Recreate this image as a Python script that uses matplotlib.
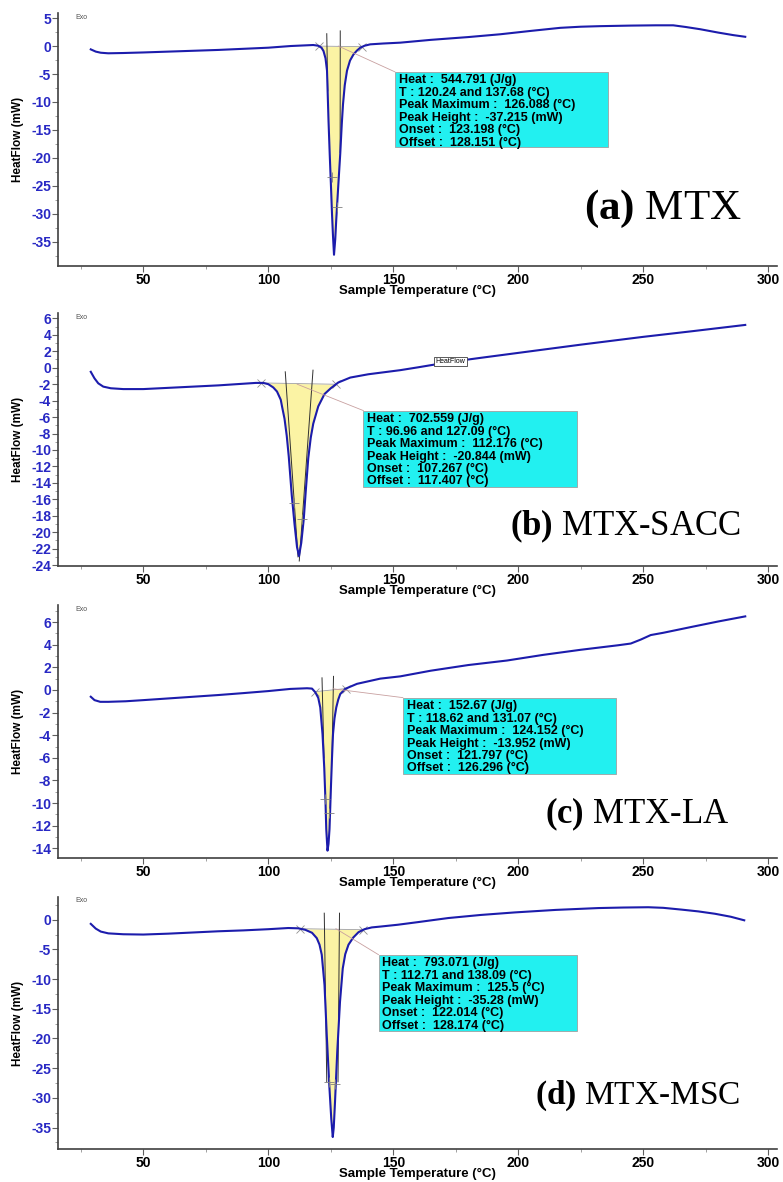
#! /usr/bin/env python

'''
DSC thermograms of MTX and its three cocrystals, four stacked panels.
'''

import numpy as np
import matplotlib
matplotlib.use('Agg')
import matplotlib.pyplot as plt
from matplotlib.patches import Rectangle
from matplotlib.ticker import MultipleLocator

plt.rcParams['font.family'] = ['Liberation Sans', 'DejaVu Sans']
plt.rcParams['axes.unicode_minus'] = False
plt.rcParams['mathtext.fontset'] = 'custom'
plt.rcParams['mathtext.rm'] = 'Liberation Serif'
plt.rcParams['mathtext.bf'] = 'Liberation Serif:bold'

# (a) MTX
temp_a = [29, 31, 33, 36, 42, 50, 60, 70, 80, 90, 100, 109, 115, 118, 120,
          121.3, 122.1, 122.9, 123.5, 124.1, 124.6, 125.1, 125.5, 125.9, 126.3,
          126.8, 127.2, 128.0, 128.8, 129.4, 129.9, 130.6, 131.5, 132.7, 134.1,
          135.5, 136.8, 138.5, 140.8, 146, 152.8, 165, 180, 192.8, 205, 216.8,
          225, 232.8, 245, 255, 262, 267, 272.8, 280, 286, 290.8]
flow_a = [-0.6, -1.0, -1.2, -1.3, -1.25, -1.15, -1.0, -0.85, -0.7, -0.5, -0.3,
          0.0, 0.12, 0.18, 0.05, -0.3, -0.9, -2.2, -4.4, -13.3, -19.5, -25.2,
          -30.0, -34.0, -37.3, -34.5, -31.0, -25.0, -19.2, -14.0, -10.4, -7.0,
          -4.4, -2.6, -1.5, -0.8, -0.3, 0.05, 0.3, 0.45, 0.6, 1.1, 1.6, 2.1,
          2.7, 3.25, 3.45, 3.55, 3.65, 3.7, 3.7, 3.4, 3.0, 2.4, 1.95, 1.65]

# (b) MTX-SACC
temp_b = [29, 30.5, 32, 34, 37, 42, 50, 60, 70, 80, 90, 95, 98, 100, 102,
          103.5, 105, 105.5, 106.5, 107.4, 108.2, 109.4, 110.5, 111.5, 112.3,
          113.2, 114.2, 115, 116, 117, 118, 120, 122.5, 125, 128, 132.8, 140,
          152.8, 160, 172.8, 185, 200, 225, 250, 270, 290.8]
flow_b = [-0.5, -1.3, -1.9, -2.3, -2.5, -2.6, -2.6, -2.45, -2.3, -2.15, -1.95,
          -1.85, -1.85, -2.0, -2.4, -2.9, -3.9, -4.7, -6.2, -8.3, -10.8, -15.5,
          -19.0, -21.8, -22.9, -21.3, -18.4, -15.0, -11.0, -8.5, -6.8, -4.7,
          -3.2, -2.5, -1.8, -1.2, -0.8, -0.3, 0.05, 0.7, 1.2, 1.8, 2.8, 3.75,
          4.45, 5.2]

# (c) MTX-LA
temp_c = [29, 30.5, 32.8, 36, 43, 50, 60, 70, 80, 90, 100, 108.8, 115.5, 117.5,
          118.8, 120, 120.8, 121.7, 122.4, 122.9, 123.2, 123.7, 124.1, 124.5,
          125.1, 125.5, 125.9, 126.5, 127.2, 128, 128.8, 130.8, 135.5, 144.8,
          152.8, 165, 180, 195.5, 210, 225, 240, 245, 249, 253, 258, 270, 280,
          290.8]
flow_c = [-0.6, -0.9, -1.05, -1.05, -1.0, -0.9, -0.75, -0.6, -0.45, -0.28, -0.1,
          0.09, 0.15, 0.12, -0.2, -0.7, -1.55, -3.9, -6.9, -9.9, -12.3, -14.2,
          -13.6, -12.3, -8.4, -6.0, -3.9, -2.5, -1.55, -0.85, -0.36, 0.1, 0.54,
          1.0, 1.2, 1.7, 2.2, 2.6, 3.1, 3.55, 3.95, 4.1, 4.45, 4.85, 5.05, 5.6,
          6.05, 6.5]

# (d) MTX-MSC
temp_d = [29, 31, 33, 36, 42, 50, 60, 70, 80, 90, 100, 108, 112, 114.8, 117.5,
          119.4, 120.5, 121.4, 122.5, 123.4, 124.4, 125.2, 125.8, 126.2, 126.7,
          127.6, 128.7, 129.8, 130.8, 132.1, 134, 136.1, 138.5, 141.4, 145,
          151.8, 160, 172, 185, 198.7, 215, 232, 242, 252, 258, 265.3, 272,
          278.7, 285, 290.4]
flow_d = [-0.7, -1.5, -2.0, -2.3, -2.45, -2.5, -2.35, -2.15, -1.95, -1.8, -1.6,
          -1.4, -1.45, -1.7, -2.2, -3.1, -4.2, -5.9, -11.0, -19.4, -27.8, -33.5,
          -36.6, -35.0, -30.7, -22.2, -13.8, -8.2, -5.8, -4.2, -3.0, -2.1, -1.6,
          -1.3, -1.15, -0.85, -0.4, 0.28, 0.8, 1.23, 1.65, 1.96, 2.05, 2.1, 2.0,
          1.7, 1.4, 1.0, 0.5, -0.1]

# integration limits (T) reported by the software
limits_a = [120.24, 137.68]
limits_b = [96.96, 127.09]
limits_c = [118.62, 131.07]
limits_d = [112.71, 138.09]

# tangent lines drawn on the peaks: (T, HF) end points
tangents_a = [[(123.4, 2.2), (123.8, -8.0)], [(128.8, 2.7), (128.75, -19.0)]]
tangents_b = [[(106.8, -0.5), (111.9, -23.0)], [(117.9, -0.3), (112.4, -23.5)]]
tangents_c = [[(121.5, 1.07), (122.3, -6.0)], [(126.1, 1.2), (125.5, -6.0)]]
tangents_d = [[(122.4, 1.1), (123.4, -27.3)], [(128.5, 1.1), (127.9, -27.3)]]

# small marks on the peak flanks
marks_a = [(125.5, -23.4), (127.5, -28.7)]
marks_b = [(110.1, -16.5), (113.5, -18.4)]
marks_c = [(122.8, -9.6), (124.4, -10.9)]
marks_d = [(124.1, -27.3), (126.7, -27.6)]

# point the leader line starts from
leader_a = (128.0, 0.0)
leader_b = (111.5, -2.0)
leader_c = (126.0, 0.1)
leader_d = (127.0, -1.5)

info_a = ['Heat :  544.791 (J/g)', 'T : 120.24 and 137.68 (°C)',
          'Peak Maximum :  126.088 (°C)', 'Peak Height :  -37.215 (mW)',
          'Onset :  123.198 (°C)', 'Offset :  128.151 (°C)']
info_b = ['Heat :  702.559 (J/g)', 'T : 96.96 and 127.09 (°C)',
          'Peak Maximum :  112.176 (°C)', 'Peak Height :  -20.844 (mW)',
          'Onset :  107.267 (°C)', 'Offset :  117.407 (°C)']
info_c = ['Heat :  152.67 (J/g)', 'T : 118.62 and 131.07 (°C)',
          'Peak Maximum :  124.152 (°C)', 'Peak Height :  -13.952 (mW)',
          'Onset :  121.797 (°C)', 'Offset :  126.296 (°C)']
info_d = ['Heat :  793.071 (J/g)', 'T : 112.71 and 138.09 (°C)',
          'Peak Maximum :  125.5 (°C)', 'Peak Height :  -35.28 (mW)',
          'Onset :  122.014 (°C)', 'Offset :  128.174 (°C)']

labels = [r'$\mathbf{(a)}$ MTX', r'$\mathbf{(b)}$ MTX-SACC',
          r'$\mathbf{(c)}$ MTX-LA', r'$\mathbf{(d)}$ MTX-MSC']

CURVE = '#1c1cac'
TICK_BLUE = '#2828c4'
FILL = '#fbf3a4'
BOX = '#22f0f0'
LEADER = '#c8a0a0'

# layout in figure / axes fractions
panels = [
    dict(temp=temp_a, flow=flow_a, limits=limits_a, tangents=tangents_a,
         marks=marks_a, leader=leader_a, info=info_a, label=labels[0],
         bottom=0.7750, ylim=(-39.3, 5.9), ystep=5,
         box=(0.469, 0.470, 0.765, 0.767), label_xy=(0.842, 0.186), label_size=31),
    dict(temp=temp_b, flow=flow_b, limits=limits_b, tangents=tangents_b,
         marks=marks_b, leader=leader_b, info=info_b, label=labels[1],
         bottom=0.5212, ylim=(-24.1, 6.65), ystep=2,
         box=(0.425, 0.313, 0.722, 0.614), label_xy=(0.790, 0.1225), label_size=25),
    dict(temp=temp_c, flow=flow_c, limits=limits_c, tangents=tangents_c,
         marks=marks_c, leader=leader_c, info=info_c, label=labels[2],
         bottom=0.2741, ylim=(-14.85, 7.5), ystep=2,
         box=(0.480, 0.332, 0.776, 0.634), label_xy=(0.806, 0.138), label_size=25),
    dict(temp=temp_d, flow=flow_d, limits=limits_d, tangents=tangents_d,
         marks=marks_d, leader=leader_d, info=info_d, label=labels[3],
         bottom=0.0275, ylim=(-38.7, 3.9), ystep=5,
         box=(0.446, 0.470, 0.722, 0.770), label_xy=(0.806, 0.182), label_size=24),
]


def plot_panel(ax, p):
    '''
    Draw one thermogram with its integrated peak and result box.
    '''
    temp = np.asarray(p['temp'], dtype=float)
    flow = np.asarray(p['flow'], dtype=float)

    # integrated area between curve and straight baseline
    t1, t2 = p['limits']
    b1, b2 = np.interp([t1, t2], temp, flow)
    inside = (temp > t1) & (temp < t2)
    tf = np.concatenate([[t1], temp[inside], [t2]])
    ff = np.concatenate([[b1], flow[inside], [b2]])
    base = b1 + (b2 - b1) * (tf - t1) / (t2 - t1)
    ax.fill_between(tf, ff, base, color=FILL, lw=0, zorder=1)
    ax.plot([t1, t2], [b1, b2], color='#a0a0a0', lw=0.6, zorder=2)
    ax.plot([t1, t2], [b1, b2], ls='none', marker='x', ms=6, mew=0.6,
            color='#909090', zorder=2)

    for (x0, y0), (x1, y1) in p['tangents']:
        ax.plot([x0, x1], [y0, y1], color='#303030', lw=0.7, zorder=2)
    mx = [m[0] for m in p['marks']]
    my = [m[1] for m in p['marks']]
    ax.plot(mx, my, ls='none', marker='+', ms=7, mew=0.6, color='#808080', zorder=4)

    ax.plot(temp, flow, color=CURVE, lw=1.5, zorder=3)

    # result box with leader line
    bx0, by0, bx1, by1 = p['box']
    ax.annotate('', xy=p['leader'], xycoords='data', xytext=(bx0, by1),
                textcoords='axes fraction',
                arrowprops=dict(arrowstyle='-', color=LEADER, lw=0.6,
                                shrinkA=0, shrinkB=0))
    ax.add_patch(Rectangle((bx0, by0), bx1 - bx0, by1 - by0, transform=ax.transAxes,
                           facecolor=BOX, edgecolor='#a0a0a0', lw=0.6, zorder=5))
    ax.text(bx0 + 0.005, by1 - 0.010, '\n'.join(p['info']), transform=ax.transAxes,
            ha='left', va='top', fontsize=9, fontweight='bold', linespacing=1.05,
            zorder=6)

    ax.text(p['label_xy'][0], p['label_xy'][1], p['label'], transform=ax.transAxes,
            ha='center', va='baseline', fontsize=p['label_size'],
            family='Liberation Serif')
    ax.text(0.024, 0.984, 'Exo', transform=ax.transAxes, ha='left', va='center',
            fontsize=5, color='#505050')

    # axes styling
    ax.set_xlim(15.9, 303.4)
    ax.set_ylim(*p['ylim'])
    ax.xaxis.set_major_locator(MultipleLocator(50))
    ax.xaxis.set_minor_locator(MultipleLocator(25))
    ax.yaxis.set_major_locator(MultipleLocator(p['ystep']))
    ax.yaxis.set_minor_locator(MultipleLocator(p['ystep'] / 2.0))
    for side in ['top', 'right']:
        ax.spines[side].set_visible(False)
    for side in ['left', 'bottom']:
        ax.spines[side].set_color('#404040')
        ax.spines[side].set_linewidth(1.2)
    ax.tick_params(axis='both', which='major', length=4, width=0.8, color='#606060')
    ax.tick_params(axis='both', which='minor', length=2, width=0.6, color='#909090')
    ax.tick_params(axis='x', which='major', pad=1, labelsize=10)
    ax.tick_params(axis='y', which='major', pad=1, labelsize=10, labelcolor=TICK_BLUE)
    for lab in ax.get_xticklabels() + ax.get_yticklabels():
        lab.set_fontweight('bold')
    ax.set_xlabel('Sample Temperature (°C)', fontsize=9.5, fontweight='bold')
    ax.set_ylabel('HeatFlow (mW)', fontsize=8.5, fontweight='bold')
    ax.xaxis.set_label_coords(0.5, -0.075)
    ax.yaxis.set_label_coords(-0.047, 0.5)


def make_figure():
    '''
    Main controller: build the four stacked panels and save.
    '''
    fig = plt.figure(figsize=(7.83, 11.82), dpi=100)
    for i, p in enumerate(panels):
        ax = fig.add_axes([0.0741, p['bottom'], 0.9179, 0.2140])
        plot_panel(ax, p)
        if i == 1:
            ax.text(172.8, 0.75, 'HeatFlow', ha='center', va='center', fontsize=5,
                    zorder=6, bbox=dict(boxstyle='square,pad=0.2', fc='white',
                                        ec='#404040', lw=0.6))
    fig.savefig('out.png', dpi=100)


if __name__ == '__main__':
    make_figure()
